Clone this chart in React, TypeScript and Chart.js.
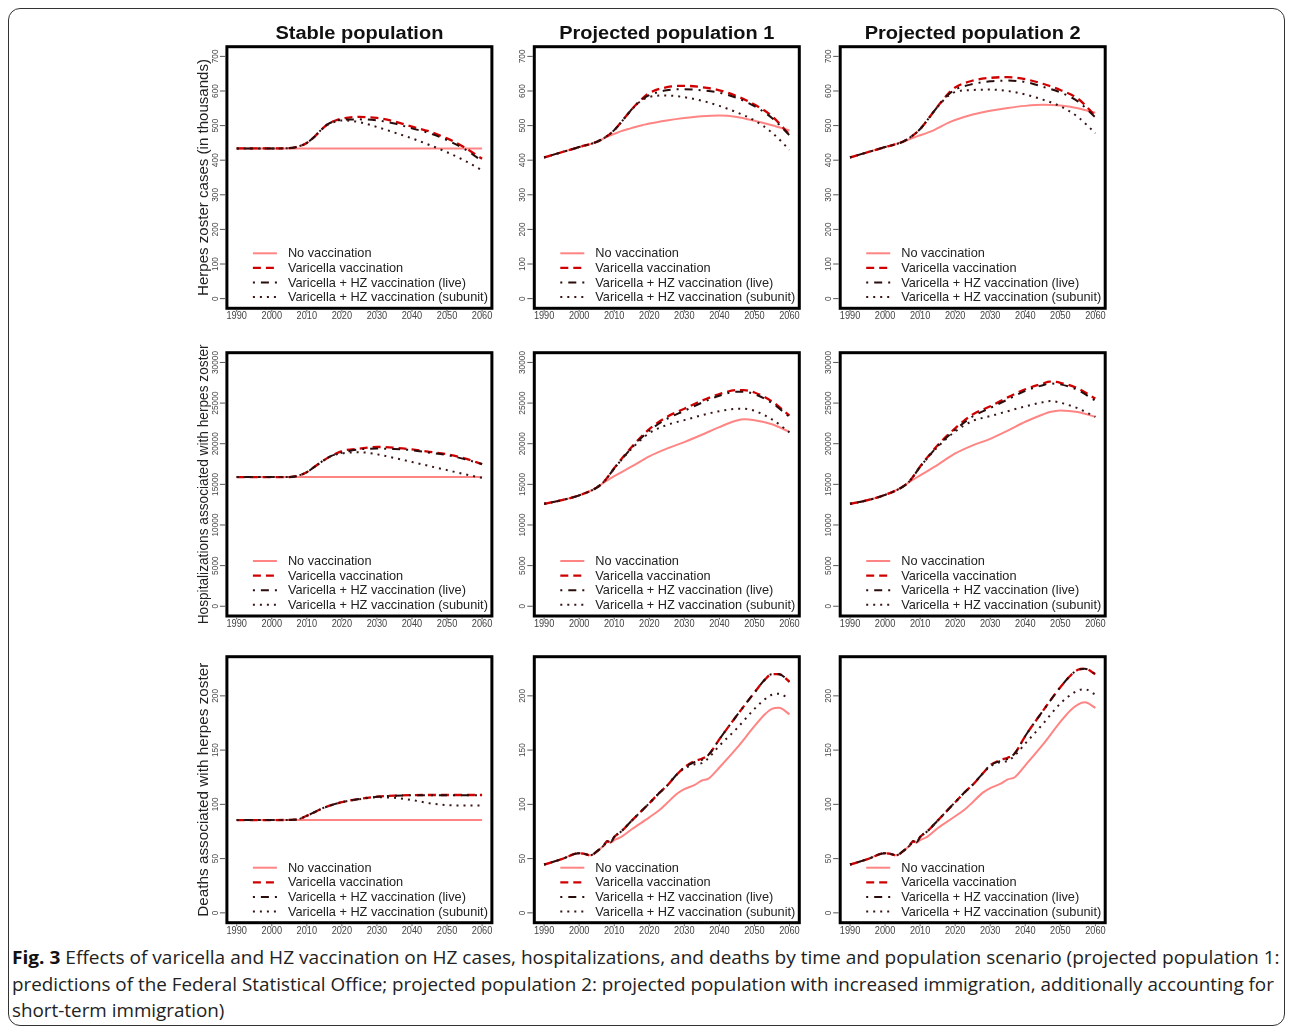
import React, { useEffect, useLayoutEffect, useRef } from "react";
import { Chart, registerables } from "chart.js";
Chart.register(...registerables);

// ---------- labels ----------
const SERIES_LABELS = [
  "No vaccination",
  "Varicella vaccination",
  "Varicella + HZ vaccination (live)",
  "Varicella + HZ vaccination (subunit)",
];
const COLUMN_TITLES = ["Stable population", "Projected population 1", "Projected population 2"];
const ROW_TITLES = [
  "Herpes zoster cases (in thousands)",
  "Hospitalizations associated with herpes zoster",
  "Deaths associated with herpes zoster",
];
const X_TICKS = [1990, 2000, 2010, 2020, 2030, 2040, 2050, 2060];
const CASES_TICKS = [0, 100, 200, 300, 400, 500, 600, 700];
const HOSP_TICKS = [0, 5000, 10000, 15000, 20000, 25000, 30000];
const DEATHS_TICKS = [0, 50, 100, 150, 200];

// ---------- row 1: HZ cases (thousands) ----------
const STABLE_CASES_YEARS = [1990, 2000, 2005, 2007, 2010, 2012, 2014, 2016, 2018, 2020, 2025, 2030, 2035, 2040, 2045, 2050, 2055, 2060];
const STABLE_CASES_NOVAC = [434, 434, 434, 434, 434, 434, 434, 434, 434, 434, 434, 434, 434, 434, 434, 434, 434, 434];
const STABLE_CASES_VAR = [434, 434, 435, 438, 450, 466, 487, 504, 514, 520, 525, 522, 512, 497, 483, 463, 437, 404];
const STABLE_CASES_LIVE = [434, 434, 435, 438, 450, 466, 487, 504, 513, 517, 518, 515, 506, 492, 478, 458, 432, 398];
const STABLE_CASES_SUB = [434, 434, 435, 438, 450, 466, 487, 503, 511, 515, 510, 496, 480, 463, 444, 423, 399, 371];

const PROJ_CASES_YEARS = [1990, 1995, 2000, 2005, 2008, 2010, 2012, 2014, 2016, 2018, 2020, 2025, 2030, 2035, 2040, 2045, 2050, 2055, 2060];
const P1_CASES_NOVAC = [408, 423, 438, 453, 468, 476, 484, 490, 496, 501, 506, 515, 522, 527, 529, 525, 514, 501, 486];
const P1_CASES_VAR = [408, 423, 438, 453, 470, 487, 510, 535, 558, 578, 594, 611, 615, 611, 602, 585, 561, 527, 474];
const P1_CASES_LIVE = [408, 423, 438, 453, 470, 487, 510, 535, 558, 576, 588, 602, 605, 602, 595, 580, 556, 522, 472];
const P1_CASES_SUB = [408, 423, 438, 453, 470, 487, 510, 535, 557, 574, 583, 587, 582, 572, 557, 538, 515, 480, 430];

const P2_CASES_NOVAC = [408, 423, 438, 453, 465, 472, 479, 487, 498, 508, 516, 532, 543, 551, 557, 560, 558, 550, 537];
const P2_CASES_VAR = [408, 423, 438, 453, 472, 490, 515, 542, 568, 592, 610, 630, 638, 640, 634, 621, 603, 578, 528];
const P2_CASES_LIVE = [408, 423, 438, 453, 472, 490, 515, 542, 567, 589, 604, 620, 628, 630, 626, 612, 596, 570, 524];
const P2_CASES_SUB = [408, 423, 438, 453, 472, 490, 515, 542, 566, 586, 597, 603, 604, 600, 590, 575, 556, 525, 478];

// ---------- row 2: hospitalizations ----------
const STABLE_HOSP_YEARS = [1990, 2000, 2005, 2007, 2010, 2012, 2015, 2017, 2020, 2025, 2030, 2035, 2040, 2045, 2050, 2055, 2060];
const STABLE_HOSP_NOVAC = [15900, 15900, 15900, 15900, 15900, 15900, 15900, 15900, 15900, 15900, 15900, 15900, 15900, 15900, 15900, 15900, 15900];
const STABLE_HOSP_VAR = [15900, 15900, 15900, 16000, 16500, 17100, 18000, 18500, 19100, 19400, 19600, 19500, 19300, 19000, 18700, 18200, 17500];
const STABLE_HOSP_LIVE = [15900, 15900, 15900, 16000, 16500, 17100, 18000, 18500, 18900, 19300, 19400, 19350, 19200, 18900, 18600, 18100, 17500];
const STABLE_HOSP_SUB = [15900, 15900, 15900, 16000, 16500, 17100, 18000, 18500, 18800, 18950, 18700, 18250, 17750, 17250, 16750, 16250, 15800];

const PROJ_HOSP_YEARS = [1990, 1995, 2000, 2005, 2007, 2010, 2015, 2020, 2025, 2030, 2035, 2040, 2045, 2047, 2050, 2055, 2060];
const P1_HOSP_NOVAC = [12600, 13050, 13650, 14600, 15200, 16000, 17200, 18450, 19400, 20200, 21100, 22050, 22850, 23000, 22900, 22400, 21450];
const P1_HOSP_VAR = [12600, 13050, 13650, 14600, 15300, 17000, 19600, 21800, 23300, 24300, 25300, 26100, 26600, 26600, 26300, 25200, 23450];
const P1_HOSP_LIVE = [12600, 13050, 13650, 14600, 15300, 16950, 19500, 21600, 23050, 24050, 25050, 25900, 26400, 26400, 26100, 25000, 23300];
const P1_HOSP_SUB = [12600, 13050, 13650, 14600, 15300, 16950, 19400, 21300, 22300, 22900, 23500, 24000, 24300, 24300, 24050, 23000, 21400];

const P2_HOSP_NOVAC = [12600, 13050, 13700, 14700, 15300, 16100, 17400, 18800, 19800, 20600, 21600, 22700, 23600, 23900, 24100, 23900, 23300];
const P2_HOSP_VAR = [12600, 13050, 13700, 14700, 15400, 17200, 19800, 21900, 23600, 24600, 25700, 26700, 27400, 27650, 27500, 26800, 25550];
const P2_HOSP_LIVE = [12600, 13050, 13700, 14700, 15400, 17150, 19700, 21700, 23350, 24400, 25450, 26500, 27200, 27400, 27300, 26600, 25300];
const P2_HOSP_SUB = [12600, 13050, 13700, 14700, 15400, 17150, 19600, 21500, 22800, 23400, 24000, 24600, 25100, 25250, 25050, 24350, 23300];

// ---------- row 3: deaths ----------
const STABLE_DEATHS_YEARS = [1990, 2000, 2007, 2010, 2015, 2020, 2025, 2030, 2035, 2040, 2045, 2050, 2055, 2060];
const STABLE_DEATHS_NOVAC = [85.5, 85.5, 85.5, 85.5, 85.5, 85.5, 85.5, 85.5, 85.5, 85.5, 85.5, 85.5, 85.5, 85.5];
const STABLE_DEATHS_VAR = [85.5, 85.5, 86, 89.5, 97, 102, 105, 107, 108, 108.5, 108.6, 108.6, 108.6, 108.6];
const STABLE_DEATHS_LIVE = [85.5, 85.5, 86, 89.5, 97, 102, 105, 107, 108, 108.4, 108.5, 108.5, 108.5, 108.5];
const STABLE_DEATHS_SUB = [85.5, 85.5, 86, 89.5, 97, 102, 104.7, 106.5, 106, 104, 101, 99.3, 99, 99];

const PROJ_DEATHS_YEARS = [1990, 1995, 2000, 2002, 2003, 2004, 2005, 2007, 2008, 2009, 2010, 2012, 2015, 2020, 2023, 2025, 2028, 2030, 2033, 2035, 2037, 2040, 2045, 2050, 2053, 2055, 2057, 2060];
const P1_DEATHS_NOVAC = [44.5, 49.5, 55, 54, 53, 54, 56.5, 62, 66, 64.5, 67, 70, 77, 88, 95, 101, 110, 114, 118, 122, 124, 134, 152, 172, 183, 188, 189, 183];
const P1_DEATHS_VAR = [44.5, 49.5, 55, 54, 53, 54, 56.5, 62, 66, 65, 70, 75, 85, 101, 111, 117, 128, 134, 140, 142, 146, 160, 182, 203, 215, 220, 220, 213];
const P1_DEATHS_LIVE = [44.5, 49.5, 55, 54, 53, 54, 56.5, 62, 66, 65, 70, 75, 85, 101, 111, 117, 128, 134, 139, 141, 146, 160, 182, 203, 215, 220, 220, 213];
const P1_DEATHS_SUB = [44.5, 49.5, 55, 54, 53, 54, 56.5, 62, 66, 65, 70, 75, 85, 101, 111, 117, 128, 133, 137, 138, 143, 154, 170, 188, 197, 201, 202, 197];

const P2_DEATHS_NOVAC = [44.5, 49.5, 55, 54, 53, 54, 56.5, 62, 66, 64.5, 67, 70, 78, 89, 96, 102, 111, 115, 119, 123, 125, 136, 155, 176, 187, 192, 194, 189];
const P2_DEATHS_VAR = [44.5, 49.5, 55, 54, 53, 54, 56.5, 62, 66, 65, 70, 75, 85, 102, 112, 118, 129, 136, 141, 143, 147, 163, 186, 208, 219, 224, 225, 220];
const P2_DEATHS_LIVE = [44.5, 49.5, 55, 54, 53, 54, 56.5, 62, 66, 65, 70, 75, 85, 102, 112, 118, 129, 136, 140, 142, 147, 163, 186, 208, 219, 224, 225, 220];
const P2_DEATHS_SUB = [44.5, 49.5, 55, 54, 53, 54, 56.5, 62, 66, 65, 70, 75, 85, 102, 112, 118, 129, 135, 139, 140, 145, 156, 174, 193, 201, 205, 206, 201];

// ---------- styles ----------
const SERIES_COLORS = ["#ff8585", "#d00000", "#2a0c0c", "#3a1414"];
const SERIES_DASHES = [[], [8, 5], [2, 6, 8, 6], [2, 5]];
const SERIES_WIDTHS = [2, 2.3, 2, 2];

const FONT = '"Liberation Sans", Arial, Helvetica, sans-serif';

type Panel = {
  row: number;
  col: number;
  years: number[];
  series: number[][];
  yMin: number;
  yMax: number;
  yTicks: number[];
};

const PANELS: Panel[] = [
  { row: 0, col: 0, years: STABLE_CASES_YEARS, series: [STABLE_CASES_NOVAC, STABLE_CASES_VAR, STABLE_CASES_LIVE, STABLE_CASES_SUB], yMin: -28, yMax: 728, yTicks: CASES_TICKS },
  { row: 0, col: 1, years: PROJ_CASES_YEARS, series: [P1_CASES_NOVAC, P1_CASES_VAR, P1_CASES_LIVE, P1_CASES_SUB], yMin: -28, yMax: 728, yTicks: CASES_TICKS },
  { row: 0, col: 2, years: PROJ_CASES_YEARS, series: [P2_CASES_NOVAC, P2_CASES_VAR, P2_CASES_LIVE, P2_CASES_SUB], yMin: -28, yMax: 728, yTicks: CASES_TICKS },
  { row: 1, col: 0, years: STABLE_HOSP_YEARS, series: [STABLE_HOSP_NOVAC, STABLE_HOSP_VAR, STABLE_HOSP_LIVE, STABLE_HOSP_SUB], yMin: -1200, yMax: 31200, yTicks: HOSP_TICKS },
  { row: 1, col: 1, years: PROJ_HOSP_YEARS, series: [P1_HOSP_NOVAC, P1_HOSP_VAR, P1_HOSP_LIVE, P1_HOSP_SUB], yMin: -1200, yMax: 31200, yTicks: HOSP_TICKS },
  { row: 1, col: 2, years: PROJ_HOSP_YEARS, series: [P2_HOSP_NOVAC, P2_HOSP_VAR, P2_HOSP_LIVE, P2_HOSP_SUB], yMin: -1200, yMax: 31200, yTicks: HOSP_TICKS },
  { row: 2, col: 0, years: STABLE_DEATHS_YEARS, series: [STABLE_DEATHS_NOVAC, STABLE_DEATHS_VAR, STABLE_DEATHS_LIVE, STABLE_DEATHS_SUB], yMin: -9.08, yMax: 236.08, yTicks: DEATHS_TICKS },
  { row: 2, col: 1, years: PROJ_DEATHS_YEARS, series: [P1_DEATHS_NOVAC, P1_DEATHS_VAR, P1_DEATHS_LIVE, P1_DEATHS_SUB], yMin: -9.08, yMax: 236.08, yTicks: DEATHS_TICKS },
  { row: 2, col: 2, years: PROJ_DEATHS_YEARS, series: [P2_DEATHS_NOVAC, P2_DEATHS_VAR, P2_DEATHS_LIVE, P2_DEATHS_SUB], yMin: -9.08, yMax: 236.08, yTicks: DEATHS_TICKS },
];

// ---------- layout ----------
const BOX_LEFT = [226.9, 534.3, 840.2];
const BOX_TOP = [46.7, 352.7, 656.7];
const BOX_BOTTOM = [308.3, 616, 922.7];
const BOX_WIDTH = 265;
const X_MIN = 1987.2;
const X_MAX = 2062.8;
const PAD_L = 62;
const PAD_T = 42;
const PAD_R = 8;
const PAD_B = 22;
const TITLE_WIDTHS = [168, 215, 216];
const YTITLE_LENGTHS = [237, 280, 254];
const LEGEND_OFFSETS = [-55, -40.4, -25.8, -11.2];
const LEGEND_TEXT_WIDTH = 200;

function PanelChart({ panel }: { panel: Panel }) {
  const ref = useRef<HTMLCanvasElement | null>(null);
  const bl = BOX_LEFT[panel.col];
  const bt = BOX_TOP[panel.row];
  const bh = BOX_BOTTOM[panel.row] - bt;
  const left = Math.floor(bl - PAD_L);
  const top = Math.floor(bt - PAD_T);
  const padL = bl - left;
  const padT = bt - top;
  const width = Math.ceil(padL + BOX_WIDTH + PAD_R);
  const height = Math.ceil(padT + bh + PAD_B);
  const padR = width - padL - BOX_WIDTH;
  const padB = height - padT - bh;

  useEffect(() => {
    const canvas = ref.current;
    if (!canvas) return;
    const datasets = panel.series.map((vals, i) => ({
      label: SERIES_LABELS[i],
      data: panel.years.map((x, j) => ({ x, y: vals[j] })),
      borderColor: SERIES_COLORS[i],
      borderWidth: SERIES_WIDTHS[i],
      borderDash: SERIES_DASHES[i],
      borderCapStyle: "butt" as const,
      pointRadius: 0,
      fill: false,
      cubicInterpolationMode: "monotone" as const,
      order: 3 - i,
    }));

    const framePlugin = {
      id: "rframe",
      afterDatasetsDraw(chart: any) {
        const { ctx, chartArea: a, scales } = chart;
        const xs = scales.x;
        const ys = scales.y;
        ctx.save();
        // box
        ctx.setLineDash([]);
        ctx.strokeStyle = "#000";
        ctx.lineWidth = 3;
        ctx.strokeRect(a.left, a.top, a.right - a.left, a.bottom - a.top);

        // y ticks + labels
        ctx.lineWidth = 1;
        ctx.strokeStyle = "#555";
        ctx.fillStyle = "#444";
        ctx.font = `9.5px ${FONT}`;
        ys.ticks.forEach((t: any) => {
          const py = ys.getPixelForValue(t.value);
          ctx.beginPath();
          ctx.moveTo(a.left - 7, py);
          ctx.lineTo(a.left - 1.5, py);
          ctx.stroke();
          ctx.save();
          ctx.translate(a.left - 11.8, py);
          ctx.rotate(-Math.PI / 2);
          ctx.scale(0.88, 1);
          ctx.textAlign = "center";
          ctx.textBaseline = "middle";
          ctx.fillText(String(t.value), 0, 0);
          ctx.restore();
        });

        // x ticks + labels
        ctx.font = `10px ${FONT}`;
        xs.ticks.forEach((t: any) => {
          const px = xs.getPixelForValue(t.value);
          ctx.beginPath();
          ctx.moveTo(px, a.bottom + 1.5);
          ctx.lineTo(px, a.bottom + 3.5);
          ctx.stroke();
          ctx.save();
          ctx.translate(px, a.bottom + 10.8);
          ctx.scale(0.92, 1);
          ctx.textAlign = "center";
          ctx.textBaseline = "alphabetic";
          ctx.fillText(String(t.value), 0, 0);
          ctx.restore();
        });

        // column title
        if (panel.row === 0) {
          const txt = COLUMN_TITLES[panel.col];
          ctx.font = `bold 17.6px ${FONT}`;
          ctx.fillStyle = "#111";
          const w = ctx.measureText(txt).width;
          ctx.save();
          ctx.translate((a.left + a.right) / 2, a.top - 7.5);
          ctx.scale(TITLE_WIDTHS[panel.col] / w, 1);
          ctx.textAlign = "center";
          ctx.textBaseline = "alphabetic";
          ctx.fillText(txt, 0, 0);
          ctx.restore();
        }

        // row title (y axis)
        if (panel.col === 0) {
          const txt = ROW_TITLES[panel.row];
          ctx.font = `14px ${FONT}`;
          ctx.fillStyle = "#222";
          const w = ctx.measureText(txt).width;
          ctx.save();
          ctx.translate(a.left - 18.5, (a.top + a.bottom) / 2);
          ctx.rotate(-Math.PI / 2);
          ctx.scale(YTITLE_LENGTHS[panel.row] / w, 1);
          ctx.textAlign = "center";
          ctx.textBaseline = "alphabetic";
          ctx.fillText(txt, 0, 0);
          ctx.restore();
        }

        // legend
        ctx.font = `12px ${FONT}`;
        const longest = ctx.measureText(SERIES_LABELS[3]).width;
        const ls = LEGEND_TEXT_WIDTH / longest;
        chart.data.datasets.forEach((ds: any, i: number) => {
          const y = a.bottom + LEGEND_OFFSETS[i];
          ctx.beginPath();
          ctx.setLineDash(ds.borderDash);
          ctx.strokeStyle = ds.borderColor;
          ctx.lineWidth = ds.borderWidth;
          ctx.moveTo(a.left + 26, y);
          ctx.lineTo(a.left + 50, y);
          ctx.stroke();
          ctx.setLineDash([]);
          ctx.fillStyle = "#222";
          ctx.save();
          ctx.translate(a.left + 61, y + 0.5);
          ctx.scale(ls, ls);
          ctx.textAlign = "left";
          ctx.textBaseline = "middle";
          ctx.fillText(ds.label, 0, 0);
          ctx.restore();
        });
        ctx.restore();
      },
    };

    const chart = new Chart(canvas, {
      type: "line",
      data: { datasets },
      options: {
        animation: false,
        responsive: false,
        maintainAspectRatio: false,
        devicePixelRatio: 1,
        layout: { padding: { left: padL, top: padT, right: padR, bottom: padB } },
        plugins: { legend: { display: false }, tooltip: { enabled: false }, title: { display: false } },
        scales: {
          x: {
            type: "linear",
            display: false,
            min: X_MIN,
            max: X_MAX,
            afterBuildTicks: (s: any) => {
              s.ticks = X_TICKS.map((v) => ({ value: v }));
            },
          },
          y: {
            type: "linear",
            display: false,
            min: panel.yMin,
            max: panel.yMax,
            afterBuildTicks: (s: any) => {
              s.ticks = panel.yTicks.map((v) => ({ value: v }));
            },
          },
        },
      },
      plugins: [framePlugin],
    } as any);
    return () => chart.destroy();
  }, []);

  return (
    <canvas
      ref={ref}
      width={width}
      height={height}
      style={{ position: "absolute", left, top, width, height }}
    />
  );
}

const CAPTION_LINES = [
  "Effects of varicella and HZ vaccination on HZ cases, hospitalizations, and deaths by time and population scenario (projected population 1:",
  "predictions of the Federal Statistical Office; projected population 2: projected population with increased immigration, additionally accounting for",
  "short-term immigration)",
];
const CAPTION_WIDTHS = [1268, 1262];
const CAPTION_TOPS = [946, 973, 999];

function Caption() {
  const r0 = useRef<HTMLSpanElement | null>(null);
  const r1 = useRef<HTMLSpanElement | null>(null);
  const r2 = useRef<HTMLSpanElement | null>(null);
  useLayoutEffect(() => {
    const fit = () => {
      if (!r0.current || !r1.current || !r2.current) return;
      const s0 = CAPTION_WIDTHS[0] / r0.current.offsetWidth;
      const s1 = CAPTION_WIDTHS[1] / r1.current.offsetWidth;
      r0.current.style.transform = `scaleX(${s0})`;
      r1.current.style.transform = `scaleX(${s1})`;
      r2.current.style.transform = `scaleX(${s1})`;
    };
    fit();
    const f: any = (document as any).fonts;
    if (f && f.ready) f.ready.then(fit);
  }, []);
  const common: React.CSSProperties = {
    position: "absolute",
    left: 12,
    display: "inline-block",
    whiteSpace: "nowrap",
    transformOrigin: "0 0",
    fontFamily: '"Open Sans", "Noto Sans", sans-serif',
    fontSize: 17.5,
    lineHeight: "22px",
    color: "#222",
  };
  return (
    <>
      <span ref={r0} style={{ ...common, top: CAPTION_TOPS[0] }}>
        <b style={{ fontWeight: 700, color: "#111" }}>Fig. 3</b> {CAPTION_LINES[0]}
      </span>
      <span ref={r1} style={{ ...common, top: CAPTION_TOPS[1] }}>
        {CAPTION_LINES[1]}
      </span>
      <span ref={r2} style={{ ...common, top: CAPTION_TOPS[2] }}>
        {CAPTION_LINES[2]}
      </span>
    </>
  );
}

export default function App() {
  return (
    <div
      style={{
        position: "fixed",
        left: 0,
        top: 0,
        width: 1290,
        height: 1029,
        background: "#fff",
        overflow: "hidden",
      }}
    >
      <div
        style={{
          position: "absolute",
          left: 8,
          top: 8,
          width: 1277,
          height: 1018,
          boxSizing: "border-box",
          border: "1.5px solid #333",
          borderRadius: 12,
        }}
      />
      {PANELS.map((p) => (
        <PanelChart key={`${p.row}-${p.col}`} panel={p} />
      ))}
      <Caption />
    </div>
  );
}
